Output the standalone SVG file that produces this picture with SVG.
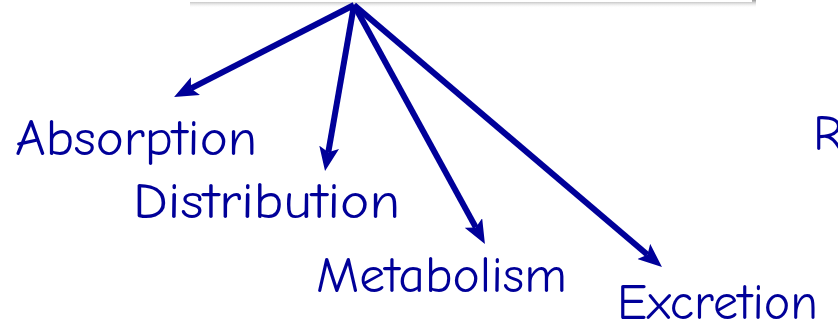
<svg xmlns="http://www.w3.org/2000/svg" width="838" height="325" viewBox="0 0 838 325">
<defs>
<linearGradient id="sh" x1="0" y1="0" x2="0" y2="1">
<stop offset="0" stop-color="#9a9a9a"/>
<stop offset="1" stop-color="#ffffff" stop-opacity="0"/>
</linearGradient>
<marker id="ah" viewBox="0 0 24 20" refX="5" refY="10" markerWidth="24" markerHeight="20" markerUnits="userSpaceOnUse" orient="auto">
<path d="M0,0 L24,10 L0,20 L5,10 Z" fill="#000099"/>
</marker>
</defs>
<style>
.lbl{font-family:"Comic Sans MS","Comic Neue","Liberation Sans",sans-serif;font-size:50px;fill:#000099}
.c{stroke:#000099;stroke-width:6;fill:none;stroke-linecap:butt}
</style>
<rect width="838" height="325" fill="#ffffff"/>
<g id="top-box">
<rect x="190" y="0" width="566" height="8" fill="url(#sh)"/>
<rect x="186" y="-20" width="566" height="22" fill="#ffffff"/>
</g>
<g id="connectors">
<line class="c" x1="354" y1="5" x2="191" y2="88.4" marker-end="url(#ah)"/>
<line class="c" x1="354" y1="5" x2="328.3" y2="152.3" marker-end="url(#ah)"/>
<line class="c" x1="354" y1="5" x2="475.8" y2="227.4" marker-end="url(#ah)"/>
<line class="c" x1="354" y1="5" x2="647.5" y2="254.7" marker-end="url(#ah)"/>
</g>
<g id="absorption"><text class="lbl" x="15" y="155" textLength="242" lengthAdjust="spacingAndGlyphs">Absorption</text></g>
<g id="distribution"><text class="lbl" x="133" y="218" textLength="267" lengthAdjust="spacingAndGlyphs">Distribution</text></g>
<g id="metabolism"><text class="lbl" x="316" y="292" textLength="251" lengthAdjust="spacingAndGlyphs">Metabolism</text></g>
<g id="excretion"><text class="lbl" x="617" y="319" textLength="201" lengthAdjust="spacingAndGlyphs">Excretion</text></g>
<g id="r-label"><text class="lbl" x="813" y="150">R</text></g>
</svg>
